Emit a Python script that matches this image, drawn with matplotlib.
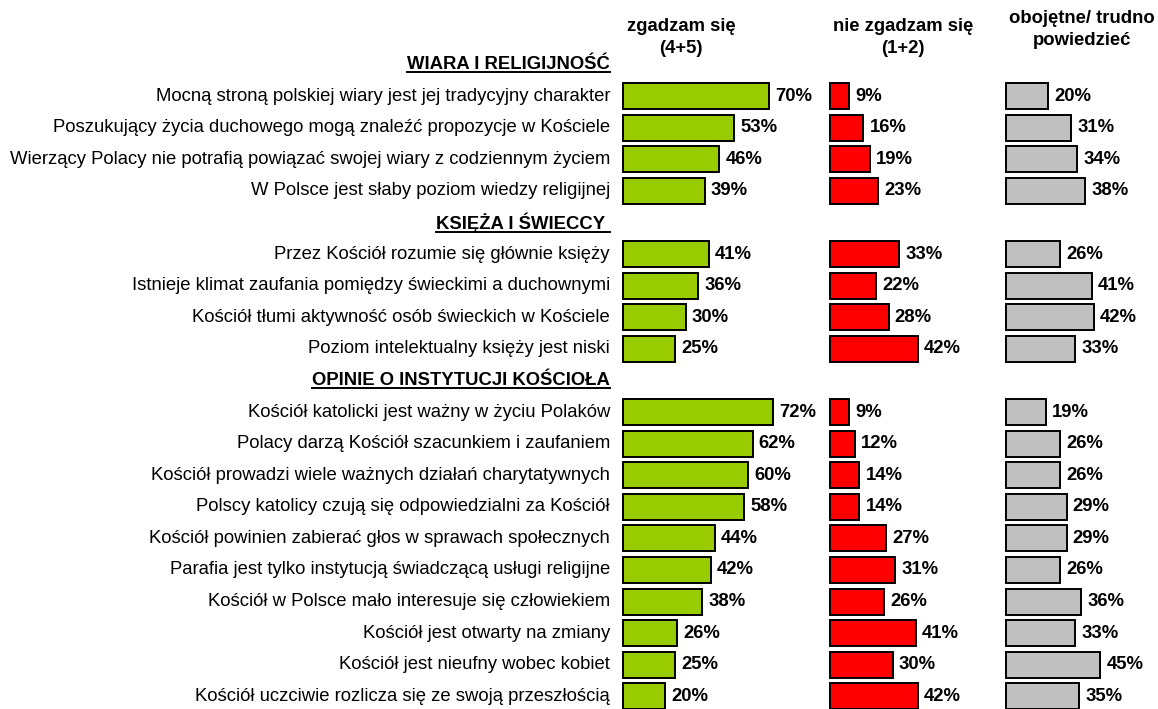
import matplotlib
matplotlib.use("Agg")
import matplotlib.pyplot as plt
from matplotlib.lines import Line2D

plt.rcParams['font.family'] = ['Liberation Sans', 'DejaVu Sans']

sections = ["WIARA I RELIGIJNOŚĆ", "KSIĘŻA I ŚWIECCY ", "OPINIE O INSTYTUCJI KOŚCIOŁA"]
section_sizes = [4, 4, 10]

labels = [
    "Mocną stroną polskiej wiary jest jej tradycyjny charakter",
    "Poszukujący życia duchowego mogą znaleźć propozycje w Kościele",
    "Wierzący Polacy nie potrafią powiązać swojej wiary z codziennym życiem",
    "W Polsce jest słaby poziom wiedzy religijnej",
    "Przez Kościół rozumie się głównie księży",
    "Istnieje klimat zaufania pomiędzy świeckimi a duchownymi",
    "Kościół tłumi aktywność osób świeckich w Kościele",
    "Poziom intelektualny księży jest niski",
    "Kościół katolicki jest ważny w życiu Polaków",
    "Polacy darzą Kościół szacunkiem i zaufaniem",
    "Kościół prowadzi wiele ważnych działań charytatywnych",
    "Polscy katolicy czują się odpowiedzialni za Kościół",
    "Kościół powinien zabierać głos w sprawach społecznych",
    "Parafia jest tylko instytucją świadczącą usługi religijne",
    "Kościół w Polsce mało interesuje się człowiekiem",
    "Kościół jest otwarty na zmiany",
    "Kościół jest nieufny wobec kobiet",
    "Kościół uczciwie rozlicza się ze swoją przeszłością",
]

agree = [70, 53, 46, 39, 41, 36, 30, 25, 72, 62, 60, 58, 44, 42, 38, 26, 25, 20]
disagree = [9, 16, 19, 23, 33, 22, 28, 42, 9, 12, 14, 14, 27, 31, 26, 41, 30, 42]
neutral = [20, 31, 34, 38, 26, 41, 42, 33, 19, 26, 26, 29, 29, 26, 36, 33, 45, 35]

col_titles = ["zgadzam się\n(4+5)", "nie zgadzam się\n(1+2)", "obojętne/ trudno\npowiedzieć"]
colors = ["#99CC00", "#FF0000", "#C0C0C0"]

W, H = 1158, 709
fig = plt.figure(figsize=(W / 100, H / 100), dpi=100)

# row slots: section header, then its items
rows = []
header_slots = []
slot = 0
for name, n in zip(sections, section_sizes):
    header_slots.append((slot, name))
    slot += 1
    for _ in range(n):
        rows.append(slot)
        slot += 1
nslots = slot

top_px, step = 64.4, 31.6
y0 = top_px - step / 2
y1 = y0 + step * nslots
px_per_pct = 2.09
ax_lefts = [623, 830, 1006]
ax_w = 120

fs = 13.3
axes = []
for left, vals, col in zip(ax_lefts, [agree, disagree, neutral], colors):
    ax = fig.add_axes([left / W, (H - y1) / H, ax_w / W, (y1 - y0) / H])
    bars = ax.barh(rows, vals, height=0.82, color=col, edgecolor="black", linewidth=1.4)
    for b in bars:
        b.set_clip_on(False)
    ax.set_xlim(0, ax_w / px_per_pct)
    ax.set_ylim(nslots - 0.5, -0.5)
    ax.axis("off")
    for r, v in zip(rows, vals):
        ax.annotate(f"{v}%", (v, r), xytext=(4.5, 0), textcoords="offset points",
                    ha="left", va="center", fontsize=fs, fontweight="bold",
                    annotation_clip=False)
    axes.append(ax)

ax0 = axes[0]
lab_x = -13 / px_per_pct
for r, lab in zip(rows, labels):
    ax0.text(lab_x, r, lab, ha="right", va="center", fontsize=fs, clip_on=False)

fig.canvas.draw()
renderer = fig.canvas.get_renderer()
for s, name in header_slots:
    t = ax0.text(lab_x, s, name, ha="right", va="center", fontsize=fs,
                 fontweight="bold", clip_on=False)
    bb = t.get_window_extent(renderer)
    fig.add_artist(Line2D([bb.x0 / W, bb.x1 / W], [(bb.y0 + 1) / H, (bb.y0 + 1) / H],
                          color="black", linewidth=1.4))

title_x = [681, 903, 1082]
title_y = [37.5, 37.5, 29.5]
for x, y, t in zip(title_x, title_y, col_titles):
    fig.text(x / W, 1 - y / H, t, ha="center", va="center", fontsize=fs,
             fontweight="bold", linespacing=1.32)

fig.savefig("out.png", dpi=100)
